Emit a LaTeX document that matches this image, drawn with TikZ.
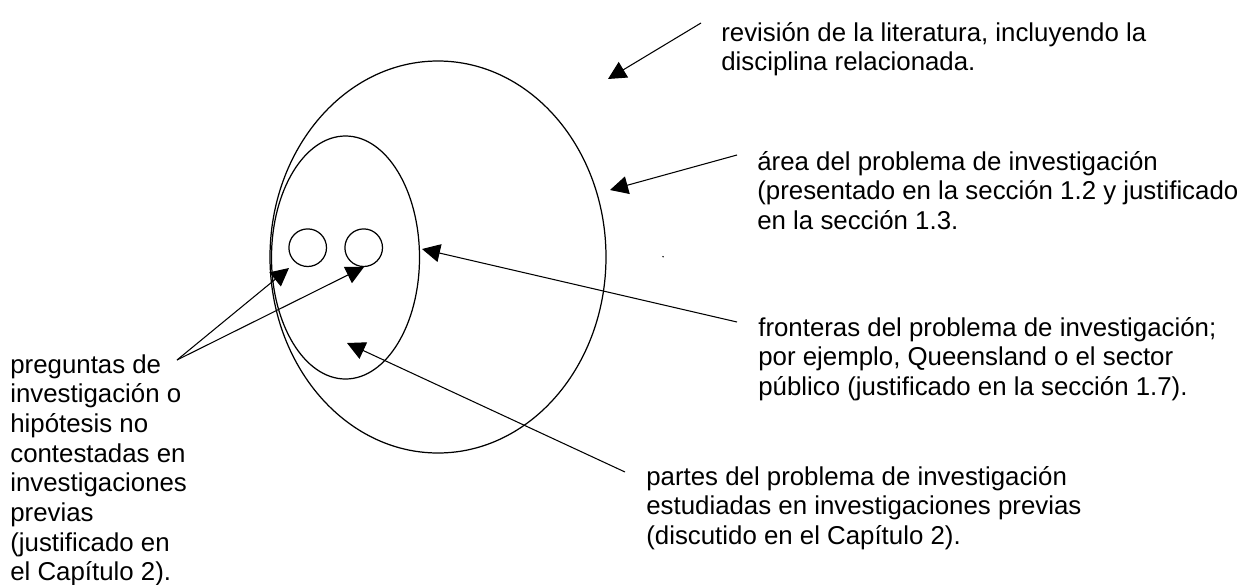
\documentclass[tikz,border=0pt]{standalone}
\usepackage{fontspec}
\setmainfont{Liberation Sans}
\usetikzlibrary{arrows.meta}

\begin{document}
\begin{tikzpicture}[x=0.02cm,y=-0.02cm,line join=round,
    flecha/.style={line width=0.6pt,-{Triangle[length=0.36cm,width=0.36cm]}},
    texto/.style={anchor=north west,inner sep=0pt,align=left,
      font=\fontsize{14.7}{16.9}\selectfont}]
  \useasboundingbox (0,0) rectangle (1248,585);
  % circulos
  \draw[line width=0.7pt] (438,257) ellipse [x radius=168,y radius=196];
  \draw[line width=0.7pt] (345.5,257.5) ellipse [x radius=74,y radius=121.5];
  \draw[line width=0.7pt] (307.7,247.7) circle (18.8);
  \draw[line width=0.7pt] (363.7,247.7) circle (18.8);
  \fill (663,256.7) circle (0.8);
  % textos
  \node[texto] (lit) at (721,20) {\strut revisión de la literatura, incluyendo la\\disciplina relacionada.};
  \node[texto] (area) at (757,149) {\strut área del problema de investigación\\(presentado en la sección 1.2 y justificado\\en la sección 1.3.};
  \node[texto] (front) at (758,315) {\strut fronteras del problema de investigación;\\por ejemplo, Queensland o el sector\\público (justificado en la sección 1.7).};
  \node[texto] (partes) at (646,464) {\strut partes del problema de investigación\\estudiadas en investigaciones previas\\(discutido en el Capítulo 2).};
  \node[texto] (preg) at (10,352) {\strut preguntas de\\investigación o\\hipótesis no\\contestadas en\\investigaciones\\previas\\(justificado en\\el Capítulo 2).};
  % puntos de las flechas
  \coordinate (litA) at (701,23);   \coordinate (litB) at (608,79);
  \coordinate (areaA) at (737,155); \coordinate (areaB) at (610,190);
  \coordinate (frontA) at (737,322); \coordinate (frontB) at (422,249);
  \coordinate (partesA) at (625,472); \coordinate (partesB) at (347,343);
  \coordinate (pregA) at (177,360);
  \coordinate (preg1) at (289,268); \coordinate (preg2) at (364,267);
  \draw[flecha] (litA) -- (litB);
  \draw[flecha] (areaA) -- (areaB);
  \draw[flecha] (frontA) -- (frontB);
  \draw[flecha] (partesA) -- (partesB);
  \draw[flecha] (pregA) -- (preg1);
  \draw[flecha] (pregA) -- (preg2);
\end{tikzpicture}
\end{document}
